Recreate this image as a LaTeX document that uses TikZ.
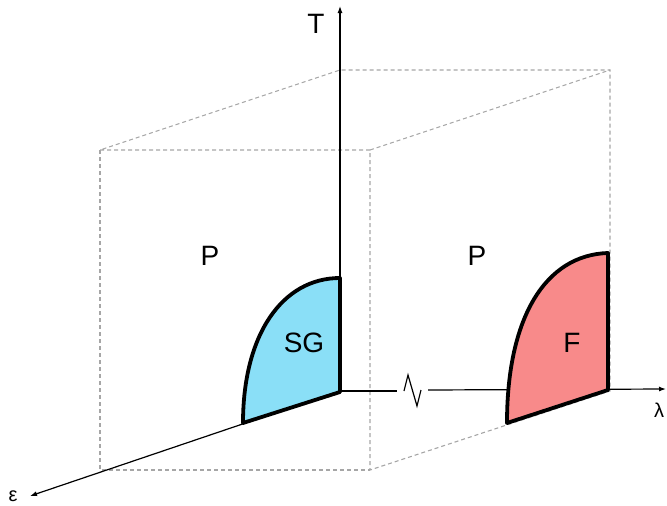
\documentclass[tikz,border=0pt]{standalone}
\usepackage{fontspec}
\setmainfont{Liberation Sans}
\usetikzlibrary{arrows.meta}
\begin{document}
\begin{tikzpicture}[x=1pt,y=-1pt,
  axis/.style={line width=1.2pt,-{Latex[length=7pt,width=5pt]}},
  hidden/.style={draw=gray!70,line width=1.1pt,dash pattern=on 4pt off 3pt},
  region/.style={draw=black,line width=3.8pt,line join=round},
  lab/.style={font=\fontsize{28}{30}\selectfont,inner sep=0pt},
  alab/.style={font=\fontsize{20}{22}\selectfont,inner sep=0pt}]
\useasboundingbox (0,0) rectangle (667,506);
% corners
\coordinate (O) at (340,391);
\coordinate (BT) at (340,70);
\coordinate (BTR) at (610,70);
\coordinate (BR) at (610,391);
\coordinate (FTL) at (100,150);
\coordinate (FTR) at (370,150);
\coordinate (FBR) at (370,470);
\coordinate (FBL) at (100,470);
% hidden box edges
\draw[hidden] (FTL) -- (FTR) -- (FBR) -- (BR) -- (BTR) -- (BT) -- (FTL);
\draw[hidden] (FTL) -- (FBL) -- (FBR);
\draw[hidden] (FTR) -- (BTR);
% axes
\coordinate (Ttip) at (340,6);
\coordinate (Ltip) at (666,389);
\coordinate (Etip) at (30,496);
\coordinate (Z0) at (397,391);
\coordinate (Z1) at (404,391);
\coordinate (Z2) at (408,375);
\coordinate (Z3) at (417,406);
\coordinate (Z4) at (421,390);
\coordinate (Z5) at (428,390);
\draw[axis] (O) -- (Ttip);
\draw[axis] (O) -- (Etip);
\draw[line width=1.2pt] (O) -- (Z0);
\draw[line width=1.2pt,line join=miter] (Z1) -- (Z2) -- (Z3) -- (Z4);
\draw[axis] (Z5) -- (Ltip);
% regions
\filldraw[region,fill={rgb,255:red,138;green,223;blue,247}]
  (340,392) -- (340,278) .. controls (282,278) and (243,335) .. (243,423) -- cycle;
\filldraw[region,fill={rgb,255:red,248;green,138;blue,138}]
  (608,390) -- (608,253) .. controls (545,255) and (507,318) .. (507,423) -- cycle;
% labels
\node[lab] (p1) at (210,256) {P};
\node[lab] (p2) at (477,256) {P};
\node[lab] (sg) at (304,343) {SG};
\node[lab] (f) at (572,343) {F};
\node[lab] (t) at (316,24) {T};
\node[alab] (l) at (659,410) {λ};
\node[alab] (e) at (13,496) {ε};
\end{tikzpicture}
\end{document}
